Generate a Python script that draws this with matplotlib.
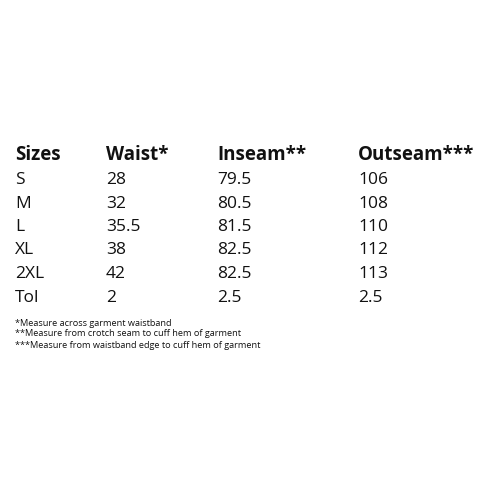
import matplotlib
matplotlib.use("Agg")
import matplotlib.pyplot as plt

headers = ["Sizes", "Waist*", "Inseam**", "Outseam***"]
sizes = ["S", "M", "L", "XL", "2XL", "Tol"]
waist = ["28", "32", "35.5", "38", "42", "2"]
inseam = ["79.5", "80.5", "81.5", "82.5", "82.5", "2.5"]
outseam = ["106", "108", "110", "112", "113", "2.5"]
notes = ["*Measure across garment waistband",
         "**Measure from crotch seam to cuff hem of garment",
         "***Measure from waistband edge to cuff hem of garment"]

fig = plt.figure(figsize=(5, 5), dpi=100)
fig.patch.set_facecolor("white")
colx = [15, 106, 217, 358]
F = "Open Sans"
for x, h in zip(colx, headers):
    fig.text(x/500, 1-155/500, h, fontsize=13.5, fontweight="bold", family=F, va="center", color="#111")
cols = [sizes, waist, inseam, outseam]
for i in range(len(sizes)):
    y = 180 + i*23.5
    for x, c in zip(colx, cols):
        fig.text(x/500, 1-y/500, c[i], fontsize=12.5, family=F, va="center", color="#111")
for j, n in enumerate(notes):
    fig.text(15/500, 1-(323+11*j)/500, n, fontsize=6.6, family=F, va="center", color="#111")
fig.savefig("out.png", dpi=100, facecolor="white")
